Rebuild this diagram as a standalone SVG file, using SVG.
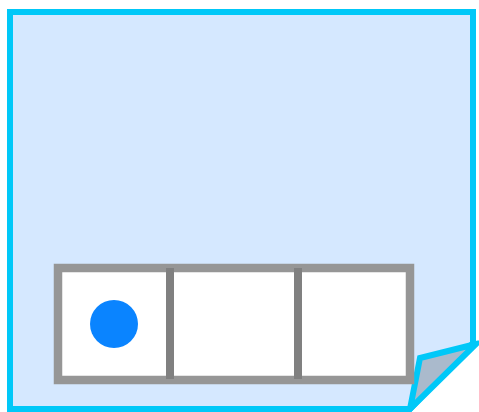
<svg xmlns="http://www.w3.org/2000/svg" width="479" height="412" viewBox="0 0 479 412">
<style>
.page{fill:#D5E8FF;stroke:#00C8F8;stroke-width:6;stroke-linejoin:miter}
.fold{fill:#AABACC;stroke:#00C8F8;stroke-width:6;stroke-linejoin:miter}
.grid{fill:#FFFFFF;stroke:#969696;stroke-width:8.5}
.div{stroke:#808080;stroke-width:8}
</style>
<rect width="479" height="412" fill="#FFFFFF"/>
<g id="page">
<path class="page" d="M10,12 H473 V343 L410,409 H10 Z"/>
<path class="fold" d="M476,344 L420,358 L410,409 Z"/>
</g>
<g id="grid">
<rect class="grid" x="58" y="268" width="352" height="112"/>
<line class="div" x1="170" y1="268" x2="170" y2="379"/>
<line class="div" x1="298" y1="268" x2="298" y2="379"/>
</g>
<g id="dot">
<circle cx="114" cy="324" r="24" fill="#0A84FF"/>
</g>
</svg>
